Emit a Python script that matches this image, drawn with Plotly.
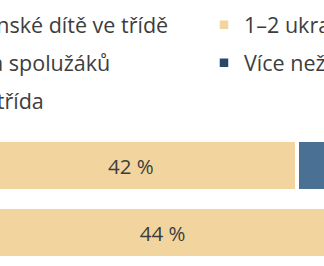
import plotly.graph_objects as go

# Data (rows of the stacked bar chart; only part of the chart is visible)
categories = ["1. stupeň", "2. stupeň"]
series_names = [
    "Žádné ukrajinské dítě ve třídě",
    "1–2 ukrajinské děti",
    "3 až polovina spolužáků",
    "Více než polovina spolužáků",
    "Samostatná třída",
]
none_vals = [20, 23]
one_two_vals = [42, 44]
up_to_half_vals = [25, 22]
over_half_vals = [9, 8]
separate_vals = [4, 3]

series_values = [none_vals, one_two_vals, up_to_half_vals, over_half_vals, separate_vals]
colors = ["#d9d9d9", "#f2d59e", "#4a7194", "#26496a", "#12283d"]
text_colors = ["#3d3d3d", "#3d3d3d", "#ffffff", "#ffffff", "#ffffff"]
legend_ids = ["legend", "legend2", "legend", "legend2", "legend"]

FONT = "Open Sans, Noto Sans, sans-serif"

fig = go.Figure()
for name, vals, col, tcol, lg in zip(series_names, series_values, colors, text_colors, legend_ids):
    fig.add_trace(go.Bar(
        y=categories,
        x=vals,
        name=name,
        orientation="h",
        marker=dict(color=col, line=dict(color="#ffffff", width=3.5)),
        text=[f"{v} %" for v in vals],
        textposition="inside",
        insidetextanchor="middle",
        textfont=dict(family=FONT, size=20.5, color=tcol),
        legend=lg,
        legendgroup=name,
        hoverinfo="skip",
    ))

legend_common = dict(
    orientation="v",
    xanchor="left",
    yanchor="top",
    y=1.953,
    font=dict(family=FONT, size=21.5, color="#3d3d3d"),
    bgcolor="rgba(0,0,0,0)",
    borderwidth=0,
    tracegroupgap=7,
    traceorder="grouped",
    maxheight=250,
)

fig.update_layout(
    width=324,
    height=266,
    margin=dict(l=0, r=0, t=132, b=0, autoexpand=False),
    paper_bgcolor="#ffffff",
    plot_bgcolor="#ffffff",
    barmode="stack",
    bargap=0.246,
    showlegend=True,
    legend=dict(x=-0.5185, **legend_common),
    legend2=dict(x=0.6296, **legend_common),
    xaxis=dict(range=[24.44, 65.43], showgrid=False, zeroline=False,
               showticklabels=False, showline=False, fixedrange=True),
    yaxis=dict(range=[1.5, -0.5], showgrid=False, zeroline=False,
               showticklabels=False, showline=False, fixedrange=True),
    uniformtext=dict(mode=False),
)

fig.write_html("out.html")
